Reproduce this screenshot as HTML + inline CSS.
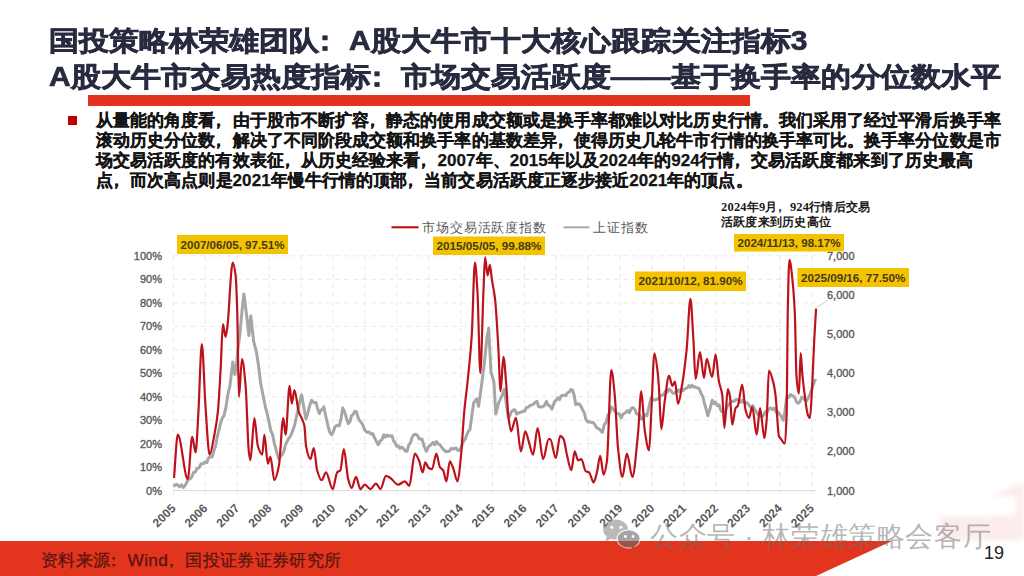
<!DOCTYPE html>
<html><head><meta charset="utf-8">
<style>
html,body{margin:0;padding:0;}
body{width:1024px;height:576px;position:relative;overflow:hidden;background:#fff;font-family:"Liberation Sans",sans-serif;}
.t{position:absolute;white-space:nowrap;}
#chart{position:absolute;left:0;top:0;}
#title1,#title2{left:49px;font-size:30px;font-weight:bold;color:#282b3f;-webkit-text-stroke:0.75px #282b3f;line-height:36px;transform:scaleY(0.9);transform-origin:0 50%;}
#title1{top:23px;}
#title2{top:59px;}
#ubar{position:absolute;left:88px;top:95px;width:662px;height:10.5px;background:#e3321f;}
#bullet{position:absolute;left:68px;top:116px;width:9px;height:9px;background:#c00000;}
#body{position:absolute;left:96px;top:111px;font-size:17px;line-height:20px;font-weight:bold;color:#141414;white-space:nowrap;letter-spacing:0.07px;-webkit-text-stroke:0.25px #141414;}
#foot{position:absolute;left:0;top:541px;width:1024px;height:35px;}
#src{left:41px;top:547.5px;font-size:17.3px;letter-spacing:0.3px;color:#571510;-webkit-text-stroke:0.25px #571510;}
#pg{left:984px;top:543px;font-size:18px;color:#222;}
#leg1{left:422px;top:219px;font-size:13.4px;letter-spacing:0.9px;color:#595959;}
#leg2{left:593px;top:219px;font-size:13.4px;letter-spacing:1px;color:#595959;}
#note{left:721px;top:200px;font-family:"Liberation Serif",serif;font-size:12.45px;letter-spacing:0.22px;line-height:14.5px;font-weight:bold;color:#1a1a1a;}
#wm{left:650px;top:518px;font-size:28px;letter-spacing:0.6px;color:rgba(110,110,110,0.5);}
#wx{position:absolute;left:600px;top:518px;}
.p{position:relative;left:-0.3em;}
</style></head><body>
<svg id="chart" width="1024" height="576" viewBox="0 0 1024 576">
<g stroke="#eaeaea" stroke-width="1" stroke-dasharray="5 4"><line x1="173" y1="467.1" x2="816" y2="467.1"/><line x1="173" y1="443.7" x2="816" y2="443.7"/><line x1="173" y1="420.2" x2="816" y2="420.2"/><line x1="173" y1="396.7" x2="816" y2="396.7"/><line x1="173" y1="373.2" x2="816" y2="373.2"/><line x1="173" y1="349.8" x2="816" y2="349.8"/><line x1="173" y1="326.3" x2="816" y2="326.3"/><line x1="173" y1="302.8" x2="816" y2="302.8"/><line x1="173" y1="279.4" x2="816" y2="279.4"/><line x1="173" y1="255.9" x2="816" y2="255.9"/><line x1="173.4" y1="256" x2="173.4" y2="496"/><line x1="205.3" y1="256" x2="205.3" y2="496"/><line x1="237.2" y1="256" x2="237.2" y2="496"/><line x1="269.1" y1="256" x2="269.1" y2="496"/><line x1="301.1" y1="256" x2="301.1" y2="496"/><line x1="333.0" y1="256" x2="333.0" y2="496"/><line x1="364.9" y1="256" x2="364.9" y2="496"/><line x1="396.8" y1="256" x2="396.8" y2="496"/><line x1="428.7" y1="256" x2="428.7" y2="496"/><line x1="460.6" y1="256" x2="460.6" y2="496"/><line x1="492.5" y1="256" x2="492.5" y2="496"/><line x1="524.5" y1="256" x2="524.5" y2="496"/><line x1="556.4" y1="256" x2="556.4" y2="496"/><line x1="588.3" y1="256" x2="588.3" y2="496"/><line x1="620.2" y1="256" x2="620.2" y2="496"/><line x1="652.1" y1="256" x2="652.1" y2="496"/><line x1="684.0" y1="256" x2="684.0" y2="496"/><line x1="716.0" y1="256" x2="716.0" y2="496"/><line x1="747.9" y1="256" x2="747.9" y2="496"/><line x1="779.8" y1="256" x2="779.8" y2="496"/><line x1="811.7" y1="256" x2="811.7" y2="496"/></g>
<line x1="173" y1="490.6" x2="816" y2="490.6" stroke="#d9d9d9" stroke-width="1"/>
<polyline points="173.3,486.5 174.9,485.3 176.4,484.2 178.0,485.5 179.8,486.9 181.5,484.8 183.3,487.5 185.0,485.6 186.7,482.7 188.3,479.1 190.0,479.1 191.8,476.9 193.6,472.4 195.3,472.1 197.1,468.2 198.9,468.0 201.1,463.8 203.3,463.6 205.1,461.9 206.9,462.5 208.6,457.8 210.4,456.9 212.2,456.9 213.9,450.8 215.6,445.7 217.2,437.2 218.9,430.2 220.3,424.4 222.1,418.4 224.0,415.6 225.8,407.8 227.9,394.5 230.0,385.6 232.8,361.9 235.0,374.4 236.6,363.2 238.1,347.5 239.7,335.6 241.8,313.0 243.9,293.9 246.7,316.0 248.9,335.6 250.8,316.0 253.6,341.0 256.4,352.0 258.5,365.6 260.6,382.8 263.3,396.7 265.6,408.0 267.2,413.7 268.9,421.3 270.7,430.3 272.6,434.6 274.4,443.6 275.9,449.2 277.4,454.6 278.9,459.1 280.5,456.3 282.2,454.7 283.8,451.4 285.3,445.5 286.9,441.9 288.4,439.0 290.0,436.9 292.2,432.2 294.4,425.8 296.0,419.1 297.9,410.6 299.7,401.9 301.6,394.7 303.8,407.3 306.0,419.1 307.9,412.6 309.7,405.5 311.6,400.2 313.8,402.7 316.0,402.4 317.6,409.0 319.3,413.6 320.8,410.1 322.3,409.5 323.8,406.9 326.0,417.0 328.2,426.9 329.9,432.6 331.6,434.7 333.2,431.9 334.9,426.9 337.1,425.3 339.3,425.8 341.0,419.2 342.7,408.0 344.5,411.4 346.4,418.0 348.2,423.6 349.9,421.8 351.5,415.8 353.2,414.3 354.9,411.3 356.5,411.8 358.0,417.5 359.6,420.6 361.1,422.4 362.7,424.7 364.9,430.4 367.1,432.4 369.0,431.9 370.8,434.1 372.7,433.6 374.5,437.8 376.4,441.4 378.2,444.7 380.1,441.2 381.9,439.7 383.8,434.7 385.4,437.1 387.1,435.1 388.8,436.3 390.4,435.8 392.0,435.7 393.5,440.8 395.1,442.5 396.6,446.2 398.2,445.8 400.0,448.4 401.8,447.0 403.5,448.6 405.3,451.0 407.1,451.3 408.8,444.9 410.5,442.8 412.1,437.3 413.8,434.7 415.6,434.3 417.5,435.5 419.3,439.1 422.0,439.1 424.2,446.5 426.4,451.3 428.1,447.3 429.8,445.6 431.4,444.1 433.1,442.4 434.8,444.8 436.5,441.5 438.1,443.9 439.8,444.7 442.0,447.7 444.2,450.2 446.0,451.8 447.8,451.3 449.5,451.3 451.3,448.3 453.1,449.1 454.7,448.5 456.2,448.0 457.8,450.3 459.3,450.4 460.9,448.0 463.1,441.9 465.3,439.1 466.9,434.3 468.4,431.3 470.0,429.4 471.9,414.7 473.8,402.6 476.7,398.8 478.6,406.4 481.5,385.4 484.3,363.4 487.2,335.7 488.7,328.3 491.0,372.0 493.9,381.6 495.8,414.1 498.7,402.6 501.5,396.9 504.4,389.2 506.3,403.5 508.2,417.9 509.8,415.8 511.4,411.7 513.0,410.3 514.9,409.8 516.8,414.1 518.4,413.1 520.0,412.2 521.6,412.2 523.2,410.9 524.8,411.2 526.4,407.4 528.2,407.3 530.0,405.5 531.7,405.0 533.5,404.2 535.3,402.4 537.0,401.4 538.6,406.6 540.3,407.1 542.0,406.9 544.2,405.9 546.4,401.3 548.3,405.3 550.1,406.0 552.0,409.1 554.7,401.3 556.3,400.0 557.9,397.8 559.5,399.6 561.0,396.1 562.6,395.3 564.2,395.2 565.8,395.8 567.4,392.8 569.1,392.2 570.8,389.5 572.4,390.2 574.1,395.1 575.8,404.7 577.6,403.8 579.5,404.3 581.3,406.9 582.8,410.3 584.3,412.8 585.8,419.1 587.6,422.0 589.5,421.8 591.3,422.4 593.2,422.6 595.0,424.9 596.9,428.0 598.7,428.7 600.6,430.3 602.4,432.4 604.3,424.7 606.1,422.3 608.0,414.7 609.6,413.2 611.3,406.9 613.2,409.0 615.0,411.3 616.9,413.6 619.1,413.8 621.3,418.0 622.8,414.2 624.3,413.5 625.8,412.4 627.6,410.6 629.4,412.7 631.1,408.8 632.9,407.5 634.7,409.1 636.4,413.8 638.0,414.2 639.6,414.9 641.3,419.1 643.2,418.2 645.0,414.6 646.9,415.8 649.1,406.5 651.3,396.9 653.2,399.9 655.0,400.1 656.9,399.1 658.6,398.9 660.2,395.8 661.9,395.2 663.6,394.7 665.4,391.2 667.3,392.3 669.1,389.1 670.9,390.7 672.6,393.2 674.4,393.3 676.1,391.4 677.8,389.8 679.4,391.5 681.1,388.9 682.7,390.6 684.2,389.3 685.8,388.4 687.3,387.8 688.9,385.6 690.5,387.2 692.0,385.2 693.6,387.0 695.1,386.7 696.7,387.8 698.9,388.3 701.1,393.3 702.8,396.7 704.5,403.5 706.1,409.0 707.8,415.8 710.0,408.9 712.2,400.2 713.9,403.5 715.5,402.2 717.2,405.7 718.9,404.7 721.1,410.9 723.3,412.4 725.2,412.0 727.0,406.6 728.9,404.7 730.7,402.2 732.6,401.1 734.4,401.3 736.0,399.6 737.5,399.4 739.1,401.2 740.6,402.3 742.2,400.2 744.1,403.0 745.9,402.4 747.8,403.6 749.4,405.7 751.1,407.8 752.8,405.7 754.4,409.1 756.0,411.4 757.5,414.2 759.1,415.1 760.6,416.5 762.2,416.9 763.9,414.8 765.5,411.5 767.2,412.4 768.9,409.1 770.7,407.9 772.6,409.8 774.4,408.0 776.3,412.5 778.1,412.0 780.0,414.7 781.6,417.0 783.3,420.2 785.0,410.7 786.7,396.9 788.5,397.6 790.4,394.6 792.2,395.8 793.7,396.2 795.2,398.5 796.7,402.4 798.4,403.2 800.0,401.7 801.6,397.4 803.3,398.0 804.8,399.9 806.3,401.0 807.8,399.1 810.0,394.3 812.2,388.0 813.9,382.8 815.6,379.1" fill="none" stroke="#a6a6a6" stroke-width="3" stroke-linejoin="round"/>
<path d="M174.0,478.0 C175.3,463.6 176.5,434.7 177.8,434.7 C181.1,434.7 184.5,479.1 187.8,479.1 C189.3,479.1 190.7,436.9 192.2,436.9 C193.3,436.9 194.5,452.4 195.6,452.4 C196.5,452.4 197.5,427.9 198.4,412.4 C199.5,393.6 200.7,344.2 201.8,344.2 C203.1,344.2 204.3,390.5 205.6,408.0 C206.9,426.4 208.3,454.7 209.6,454.7 C211.2,454.7 212.8,443.0 214.4,434.7 C215.5,428.9 216.7,422.9 217.8,412.4 C218.8,403.4 219.7,384.9 220.7,368.0 C221.4,355.2 222.2,324.1 222.9,324.1 C223.8,324.1 224.6,336.8 225.5,336.8 C226.1,336.8 226.6,332.0 227.2,328.3 C229.0,316.2 230.9,262.7 232.7,262.7 C233.7,262.7 234.6,267.9 235.6,275.4 C236.2,279.8 236.7,295.7 237.3,313.5 C237.8,330.3 238.4,396.9 238.9,396.9 C239.9,396.9 241.0,359.0 242.0,359.0 C243.2,359.0 244.4,372.7 245.6,385.8 C246.7,397.8 247.8,443.9 248.9,452.4 C249.4,456.3 249.9,460.2 250.4,460.2 C251.7,460.2 253.1,418.0 254.4,418.0 C255.5,418.0 256.7,442.0 257.8,445.8 C259.3,450.7 260.7,454.7 262.2,454.7 C262.9,454.7 263.7,434.7 264.4,434.7 C265.5,434.7 266.7,463.6 267.8,463.6 C268.7,463.6 269.5,456.9 270.4,456.9 C271.7,456.9 273.1,480.2 274.4,480.2 C275.9,480.2 277.4,473.2 278.9,465.8 C280.4,458.5 281.8,418.0 283.3,418.0 C284.1,418.0 284.8,434.7 285.6,434.7 C286.9,434.7 288.3,385.8 289.6,385.8 C290.3,385.8 291.1,403.6 291.8,403.6 C292.7,403.6 293.5,390.2 294.4,390.2 C295.9,390.2 297.4,408.2 298.9,412.4 C299.8,414.9 300.7,415.9 301.6,418.0 C302.5,420.2 303.5,421.3 304.4,425.8 C304.9,428.4 305.5,442.9 306.0,445.8 C307.5,453.7 308.9,459.1 310.4,459.1 C311.5,459.1 312.7,448.0 313.8,448.0 C314.9,448.0 316.0,466.4 317.1,470.2 C318.6,475.3 320.1,480.2 321.6,480.2 C323.1,480.2 324.5,472.4 326.0,472.4 C328.2,472.4 330.5,489.1 332.7,489.1 C334.2,489.1 335.6,474.0 337.1,472.4 C338.2,471.2 339.3,471.5 340.4,470.2 C341.5,468.8 342.7,449.1 343.8,449.1 C345.3,449.1 346.7,473.7 348.2,479.1 C349.3,483.3 350.5,488.0 351.6,488.0 C353.1,488.0 354.5,476.9 356.0,476.9 C357.5,476.9 358.9,489.1 360.4,489.1 C361.9,489.1 363.4,484.7 364.9,484.7 C366.7,484.7 368.6,489.1 370.4,489.1 C372.3,489.1 374.1,483.6 376.0,483.6 C377.5,483.6 378.9,489.1 380.4,489.1 C382.3,489.1 384.1,475.8 386.0,475.8 C387.5,475.8 388.9,477.1 390.4,478.0 C393.0,479.6 395.6,484.7 398.2,484.7 C400.4,484.7 402.7,481.3 404.9,481.3 C406.4,481.3 407.8,485.8 409.3,485.8 C411.2,485.8 413.0,453.6 414.9,453.6 C416.4,453.6 417.8,457.9 419.3,461.3 C420.4,463.9 421.6,472.4 422.7,472.4 C423.6,472.4 424.4,462.4 425.3,462.4 C426.4,462.4 427.6,467.4 428.7,468.0 C429.8,468.6 430.9,469.1 432.0,469.1 C433.5,469.1 434.9,453.6 436.4,453.6 C437.5,453.6 438.7,465.1 439.8,466.9 C440.9,468.6 442.0,468.5 443.1,470.2 C444.2,471.9 445.3,481.3 446.4,481.3 C447.5,481.3 448.7,461.3 449.8,461.3 C450.9,461.3 452.0,465.4 453.1,468.0 C454.6,471.6 456.1,481.3 457.6,481.3 C458.7,481.3 459.8,467.4 460.9,456.9 C462.0,446.4 463.1,424.4 464.2,412.4 C465.3,400.0 466.5,392.6 467.6,381.3 C469.0,367.3 470.4,356.1 471.8,334.7 C472.8,318.9 473.9,262.7 474.9,262.7 C475.8,262.7 476.6,278.2 477.5,292.3 C478.4,307.5 479.4,373.0 480.3,373.0 C481.3,373.0 482.4,315.8 483.4,292.3 C484.0,279.4 484.5,257.4 485.1,257.4 C485.9,257.4 486.8,275.4 487.6,275.4 C488.3,275.4 489.1,264.8 489.8,264.8 C490.5,264.8 491.2,275.0 491.9,279.6 C492.9,286.4 494.0,289.8 495.0,298.7 C496.1,307.9 497.1,327.3 498.2,345.0 C499.0,358.3 499.8,391.2 500.6,391.2 C501.5,391.2 502.5,356.8 503.4,356.8 C504.4,356.8 505.3,373.7 506.3,385.4 C506.9,393.1 507.6,408.5 508.2,414.1 C509.2,422.6 510.1,431.3 511.1,431.3 C512.7,431.3 514.3,417.9 515.9,417.9 C517.6,417.9 519.2,451.3 520.9,451.3 C522.4,451.3 523.8,431.3 525.3,431.3 C526.4,431.3 527.6,437.9 528.7,441.3 C530.2,445.7 531.6,454.7 533.1,454.7 C534.6,454.7 536.1,428.0 537.6,428.0 C539.4,428.0 541.3,459.1 543.1,459.1 C545.0,459.1 546.8,439.1 548.7,439.1 C549.2,439.1 549.7,439.1 550.2,439.1 C552.1,439.1 553.9,458.0 555.8,458.0 C557.3,458.0 558.7,435.8 560.2,435.8 C561.3,435.8 562.5,437.3 563.6,439.1 C564.7,440.9 565.8,450.2 566.9,454.7 C568.4,460.7 569.8,470.2 571.3,470.2 C572.4,470.2 573.6,451.3 574.7,451.3 C575.8,451.3 576.9,460.2 578.0,460.2 C579.1,460.2 580.2,459.1 581.3,459.1 C582.8,459.1 584.3,470.4 585.8,471.3 C586.9,471.9 588.0,471.8 589.1,472.4 C590.6,473.2 592.1,482.4 593.6,482.4 C594.7,482.4 595.8,476.6 596.9,472.4 C598.0,468.2 599.1,455.8 600.2,455.8 C601.3,455.8 602.5,474.7 603.6,474.7 C604.7,474.7 605.8,468.5 606.9,461.3 C608.4,451.7 609.8,370.2 611.3,370.2 C612.4,370.2 613.6,383.4 614.7,394.7 C615.8,405.7 616.9,437.5 618.0,448.0 C619.5,462.0 620.9,476.9 622.4,476.9 C623.9,476.9 625.4,453.6 626.9,453.6 C628.7,453.6 630.6,476.9 632.4,476.9 C634.3,476.9 636.1,452.0 638.0,433.6 C639.1,422.8 640.2,391.3 641.3,391.3 C642.4,391.3 643.6,422.7 644.7,430.2 C646.2,439.9 647.6,450.2 649.1,450.2 C649.8,450.2 650.6,425.6 651.3,412.4 C652.3,393.8 653.4,353.3 654.4,353.3 C655.5,353.3 656.7,363.6 657.8,373.3 C658.2,377.0 658.7,383.8 659.1,390.2 C659.8,401.0 660.6,429.1 661.3,429.1 C662.4,429.1 663.6,409.0 664.7,401.3 C666.2,391.3 667.6,375.8 669.1,375.8 C670.2,375.8 671.2,386.0 672.3,386.0 C673.2,386.0 674.1,381.5 675.0,381.5 C676.0,381.5 677.0,404.0 678.0,404.0 C679.4,404.0 680.8,392.6 682.2,384.4 C683.7,375.6 685.2,364.0 686.7,348.9 C687.9,336.5 689.2,298.9 690.4,298.9 C691.4,298.9 692.3,322.9 693.3,337.8 C694.1,349.6 694.8,379.0 695.6,379.0 C697.1,379.0 698.5,352.2 700.0,352.2 C701.3,352.2 702.7,378.0 704.0,378.0 C704.9,378.0 705.8,358.9 706.7,358.9 C708.5,358.9 710.4,377.0 712.2,377.0 C713.3,377.0 714.5,354.4 715.6,354.4 C716.7,354.4 717.8,375.3 718.9,381.3 C720.0,387.3 721.1,387.4 722.2,394.7 C722.9,399.6 723.7,428.0 724.4,428.0 C725.5,428.0 726.7,389.1 727.8,389.1 C728.5,389.1 729.3,392.8 730.0,396.9 C730.7,401.0 731.5,424.7 732.2,424.7 C733.3,424.7 734.5,409.8 735.6,408.0 C736.3,406.8 737.1,406.9 737.8,405.8 C739.3,403.5 740.7,384.7 742.2,384.7 C743.3,384.7 744.5,406.1 745.6,410.2 C746.7,414.1 747.8,418.0 748.9,418.0 C750.0,418.0 751.1,406.9 752.2,406.9 C753.7,406.9 755.2,434.7 756.7,434.7 C757.8,434.7 758.9,408.0 760.0,408.0 C761.5,408.0 762.9,438.0 764.4,438.0 C765.2,438.0 765.9,428.3 766.7,419.1 C767.4,410.3 768.2,370.5 768.9,370.5 C770.4,370.5 771.8,376.8 773.3,382.4 C774.1,385.3 774.8,389.9 775.6,395.8 C776.7,404.3 777.8,433.0 778.9,435.8 C779.6,437.7 780.4,438.0 781.1,439.1 C782.2,440.7 783.3,443.6 784.4,443.6 C785.2,443.6 785.9,432.7 786.7,412.4 C787.0,403.6 787.4,332.1 787.7,315.1 C788.3,286.2 788.8,259.8 789.4,259.8 C790.5,259.8 791.6,271.9 792.7,282.5 C793.4,289.6 794.2,298.8 794.9,315.1 C795.4,326.2 795.9,368.3 796.4,375.0 C797.2,386.1 798.1,393.6 798.9,393.6 C799.5,393.6 800.1,353.1 800.7,353.1 C801.3,353.1 801.8,369.1 802.4,375.0 C803.1,382.0 803.7,387.4 804.4,392.4 C805.5,401.0 806.7,412.1 807.8,414.7 C808.5,416.4 809.3,418.0 810.0,418.0 C810.7,418.0 811.5,398.1 812.2,385.0 C812.9,371.9 813.7,350.6 814.4,336.8 C815.0,326.2 815.5,318.0 816.1,308.6" fill="none" stroke="#bd121b" stroke-width="2.2" stroke-linejoin="round"/>
<line x1="816.5" y1="307.5" x2="829" y2="299.5" stroke="#bfbfbf" stroke-width="0.8"/>
<g font-family="Liberation Sans, sans-serif" font-size="11" fill="#595959" stroke="#595959" stroke-width="0.35"><text x="162" y="494.5" text-anchor="end">0%</text><text x="162" y="471.0" text-anchor="end">10%</text><text x="162" y="447.6" text-anchor="end">20%</text><text x="162" y="424.1" text-anchor="end">30%</text><text x="162" y="400.6" text-anchor="end">40%</text><text x="162" y="377.1" text-anchor="end">50%</text><text x="162" y="353.7" text-anchor="end">60%</text><text x="162" y="330.2" text-anchor="end">70%</text><text x="162" y="306.7" text-anchor="end">80%</text><text x="162" y="283.3" text-anchor="end">90%</text><text x="162" y="259.8" text-anchor="end">100%</text><text x="827" y="494.5">1,000</text><text x="827" y="455.4">2,000</text><text x="827" y="416.3">3,000</text><text x="827" y="377.1">4,000</text><text x="827" y="338.0">5,000</text><text x="827" y="298.9">6,000</text><text x="827" y="259.8">7,000</text></g>
<g font-family="Liberation Sans, sans-serif" font-size="12" font-weight="bold" fill="#595959"><text transform="translate(176.4,509) rotate(-45)" text-anchor="end">2005</text><text transform="translate(208.3,509) rotate(-45)" text-anchor="end">2006</text><text transform="translate(240.2,509) rotate(-45)" text-anchor="end">2007</text><text transform="translate(272.1,509) rotate(-45)" text-anchor="end">2008</text><text transform="translate(304.1,509) rotate(-45)" text-anchor="end">2009</text><text transform="translate(336.0,509) rotate(-45)" text-anchor="end">2010</text><text transform="translate(367.9,509) rotate(-45)" text-anchor="end">2011</text><text transform="translate(399.8,509) rotate(-45)" text-anchor="end">2012</text><text transform="translate(431.7,509) rotate(-45)" text-anchor="end">2013</text><text transform="translate(463.6,509) rotate(-45)" text-anchor="end">2014</text><text transform="translate(495.5,509) rotate(-45)" text-anchor="end">2015</text><text transform="translate(527.5,509) rotate(-45)" text-anchor="end">2016</text><text transform="translate(559.4,509) rotate(-45)" text-anchor="end">2017</text><text transform="translate(591.3,509) rotate(-45)" text-anchor="end">2018</text><text transform="translate(623.2,509) rotate(-45)" text-anchor="end">2019</text><text transform="translate(655.1,509) rotate(-45)" text-anchor="end">2020</text><text transform="translate(687.0,509) rotate(-45)" text-anchor="end">2021</text><text transform="translate(719.0,509) rotate(-45)" text-anchor="end">2022</text><text transform="translate(750.9,509) rotate(-45)" text-anchor="end">2023</text><text transform="translate(782.8,509) rotate(-45)" text-anchor="end">2024</text><text transform="translate(814.7,509) rotate(-45)" text-anchor="end">2025</text></g>
<rect x="177" y="235" width="111" height="19" fill="#f4c300"/>
<text x="232.5" y="248.5" text-anchor="middle" textLength="104" lengthAdjust="spacingAndGlyphs" font-family="Liberation Sans, sans-serif" font-size="11.5" font-weight="bold" fill="#45391a">2007/06/05, 97.51%</text>
<rect x="433" y="236.5" width="112" height="18.5" fill="#f4c300"/>
<text x="489.0" y="249.8" text-anchor="middle" textLength="105" lengthAdjust="spacingAndGlyphs" font-family="Liberation Sans, sans-serif" font-size="11.5" font-weight="bold" fill="#45391a">2015/05/05, 99.88%</text>
<rect x="635" y="271.5" width="111" height="19.5" fill="#f4c300"/>
<text x="690.5" y="285.2" text-anchor="middle" textLength="104" lengthAdjust="spacingAndGlyphs" font-family="Liberation Sans, sans-serif" font-size="11.5" font-weight="bold" fill="#45391a">2021/10/12, 81.90%</text>
<rect x="734" y="234" width="110" height="17.5" fill="#f4c300"/>
<text x="789.0" y="246.8" text-anchor="middle" textLength="103" lengthAdjust="spacingAndGlyphs" font-family="Liberation Sans, sans-serif" font-size="11.5" font-weight="bold" fill="#45391a">2024/11/13, 98.17%</text>
<rect x="797.5" y="268" width="111.5" height="19" fill="#f4c300"/>
<text x="853.2" y="281.5" text-anchor="middle" textLength="104.5" lengthAdjust="spacingAndGlyphs" font-family="Liberation Sans, sans-serif" font-size="11.5" font-weight="bold" fill="#45391a">2025/09/16, 77.50%</text>
<line x1="391.5" y1="227.3" x2="418.5" y2="227.3" stroke="#c00000" stroke-width="2"/>
<line x1="563.5" y1="227.3" x2="589.5" y2="227.3" stroke="#a8a8a8" stroke-width="2"/>
</svg>
<div id="title1" class="t">国投策略林荣雄团队<span class="p">：</span>A股大牛市十大核心跟踪关注指标3</div>
<div id="title2" class="t">A股大牛市交易热度指标<span class="p">：</span>市场交易活跃度——基于换手率的分位数水平</div>
<div id="ubar"></div>
<div id="bullet"></div>
<div id="body">从量能的角度看<span class="p">，</span>由于股市不断扩容<span class="p">，</span>静态的使用成交额或是换手率都难以对比历史行情。我们采用了经过平滑后换手率<br>滚动历史分位数<span class="p">，</span>解决了不同阶段成交额和换手率的基数差异<span class="p">，</span>使得历史几轮牛市行情的换手率可比。换手率分位数是市<br>场交易活跃度的有效表征<span class="p">，</span>从历史经验来看<span class="p">，</span>2007年、2015年以及2024年的924行情<span class="p">，</span>交易活跃度都来到了历史最高<br>点<span class="p">，</span>而次高点则是2021年慢牛行情的顶部<span class="p">，</span>当前交易活跃度正逐步接近2021年的顶点。</div>
<div id="leg1" class="t">市场交易活跃度指数</div>
<div id="leg2" class="t">上证指数</div>
<div id="note" class="t">2024年9月<span class="p">，</span>924行情后交易<br>活跃度来到历史高位</div>
<svg id="ghost" style="position:absolute;left:900px;top:470px" width="124" height="75"><defs><filter id="gb" x="-20%" y="-20%" width="140%" height="140%"><feGaussianBlur stdDeviation="2.5"/></filter></defs><g filter="url(#gb)"><polygon points="40,70 40,47 92,47 92,26 124,12 124,70" fill="#fcecec"/><rect x="92" y="26.5" width="24" height="19" fill="#fff"/></g></svg>
<svg id="foot" width="1024" height="35" viewBox="0 0 1024 35"><polygon points="0,0 892,0 816,35 0,35" fill="#e3341e"/></svg>
<div id="src" class="t">资料来源<span class="p">：</span>Wind<span class="p">，</span>国投证券证券研究所</div>
<div id="pg" class="t">19</div>
<svg id="wx" width="44" height="34" viewBox="0 0 44 34"><g opacity="0.6"><ellipse cx="15.6" cy="11.6" rx="12.5" ry="10" fill="#8c8c8c"/><path d="M7 18 L5 24 L12 20 Z" fill="#8c8c8c"/><circle cx="11.7" cy="9.3" r="1.6" fill="#fff"/><circle cx="20.8" cy="9.3" r="1.6" fill="#fff"/><ellipse cx="28.6" cy="20.9" rx="11.5" ry="9.2" fill="#6a6a6a" stroke="#fff" stroke-width="1.1"/><path d="M34 28 L37 32 L31 29.5 Z" fill="#6a6a6a"/><circle cx="25.4" cy="18.5" r="1.4" fill="#fff"/><circle cx="33.1" cy="18.5" r="1.4" fill="#fff"/></g></svg>
<div id="wm" class="t">公众号 · 林荣雄策略会客厅</div>
</body></html>
